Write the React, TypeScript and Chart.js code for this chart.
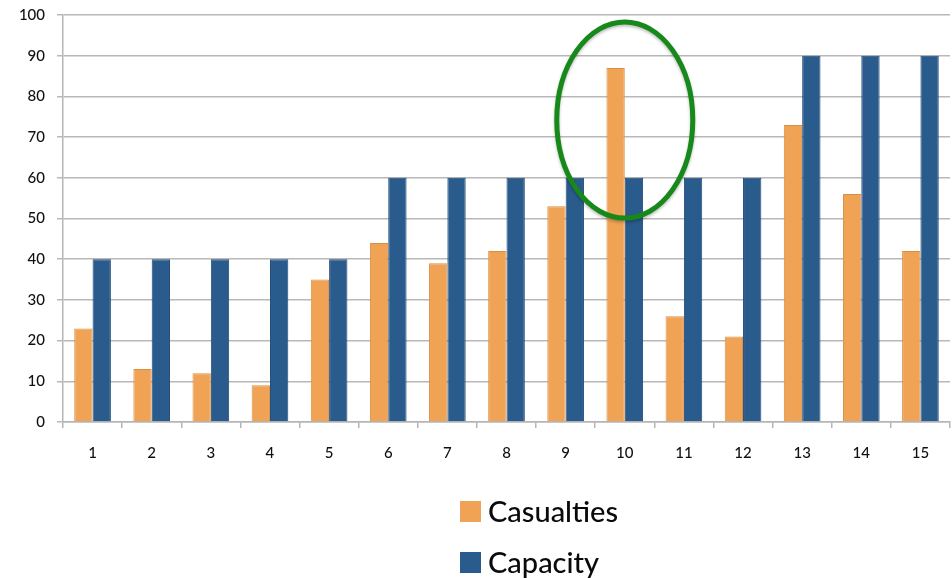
import React, { useEffect, useRef } from "react";
import { Chart, registerables } from "chart.js";

Chart.register(...registerables);

const categories = ["1", "2", "3", "4", "5", "6", "7", "8", "9", "10", "11", "12", "13", "14", "15"];
const casualties = [23, 13, 12, 9, 35, 44, 39, 42, 53, 87, 26, 21, 73, 56, 42];
const capacity = [40, 40, 40, 40, 40, 60, 60, 60, 60, 60, 60, 60, 90, 90, 90];
const seriesLabels = ["Casualties", "Capacity"];
const seriesColors = ["#F1A355", "#2A5B8D"];
const seriesBorders = ["#D98E45", "#1F4A76"];
// highlighted category (index) and the value span covered by the ellipse
const highlightIndex = 9;
const highlightTop = 98.3;
const highlightBottom = 50.1;
const highlightHalfWidth = 1.15; // in category units

const FONT = "Lato, 'Open Sans', sans-serif";

const ellipsePlugin = {
  id: "highlightEllipse",
  afterDatasetsDraw(chart: any) {
    const x = chart.scales.x;
    const y = chart.scales.y;
    const cx = x.getPixelForValue(highlightIndex);
    const step = x.getPixelForValue(1) - x.getPixelForValue(0);
    const rx = step * highlightHalfWidth;
    const yTop = y.getPixelForValue(highlightTop);
    const yBot = y.getPixelForValue(highlightBottom);
    const cy = (yTop + yBot) / 2;
    const ry = (yBot - yTop) / 2;
    const ctx = chart.ctx;
    ctx.save();
    ctx.beginPath();
    ctx.ellipse(cx, cy, rx, ry, 0, 0, Math.PI * 2);
    ctx.strokeStyle = "#17891A";
    ctx.lineWidth = 5;
    ctx.shadowColor = "rgba(0,0,0,0.25)";
    ctx.shadowBlur = 3;
    ctx.shadowOffsetY = 2;
    ctx.stroke();
    ctx.restore();
  },
};

export default function App() {
  const canvasRef = useRef<HTMLCanvasElement | null>(null);

  useEffect(() => {
    document.body.style.margin = "0";
    const canvas = canvasRef.current;
    if (!canvas) return;
    const chart = new Chart(canvas, {
      type: "bar",
      data: {
        labels: categories,
        datasets: [
          {
            label: seriesLabels[0],
            data: casualties,
            backgroundColor: seriesColors[0],
            borderColor: seriesBorders[0],
            borderWidth: 1,
          },
          {
            label: seriesLabels[1],
            data: capacity,
            backgroundColor: seriesColors[1],
            borderColor: seriesBorders[1],
            borderWidth: 1,
          },
        ],
      },
      options: {
        animation: false,
        responsive: false,
        maintainAspectRatio: false,
        layout: { padding: { top: 15, right: 2, left: 0, bottom: 0 } },
        plugins: {
          legend: { display: false },
          tooltip: { enabled: false },
        },
        datasets: {
          bar: { categoryPercentage: 0.62, barPercentage: 1.0 },
        },
        scales: {
          x: {
            afterFit: (s: any) => {
              s.height = 156;
            },
            grid: {
              offset: true,
              drawOnChartArea: false,
              color: "#B5B5B5",
              lineWidth: 1.5,
              tickLength: 6,
            },
            border: { color: "#B5B5B5", width: 1.5 },
            ticks: {
              color: "#111",
              font: { family: FONT, size: 15, weight: "500" as any },
              padding: 16,
              maxRotation: 0,
            },
          },
          y: {
            min: 0,
            max: 100,
            afterFit: (s: any) => {
              s.width = 63;
              s.paddingTop = 0;
              s.paddingBottom = 0;
            },
            ticks: {
              stepSize: 10,
              color: "#111",
              font: { family: FONT, size: 15, weight: "500" as any },
              padding: 12,
            },
            grid: {
              color: "#B8B8B8",
              lineWidth: 1.5,
              tickLength: 6,
            },
            border: { color: "#B5B5B5", width: 1.5 },
          },
        },
      },
      plugins: [ellipsePlugin],
    });
    return () => chart.destroy();
  }, []);

  const legendItem = (i: number, top: number) => (
    <div
      key={i}
      style={{
        position: "absolute",
        left: 460,
        top,
        display: "flex",
        alignItems: "center",
        fontFamily: FONT,
        fontSize: 29,
        fontWeight: 500,
        color: "#0a0a0a",
        lineHeight: "30px",
      }}
    >
      <span
        style={{
          display: "inline-block",
          width: 21,
          height: 21,
          background: seriesColors[i],
          marginRight: 7,
        }}
      />
      <span>{seriesLabels[i]}</span>
    </div>
  );

  return (
    <div style={{ position: "relative", width: 952, height: 578, overflow: "hidden", background: "#fff" }}>
      <canvas ref={canvasRef} width={952} height={578} style={{ display: "block" }} />
      {legendItem(0, 496)}
      {legendItem(1, 547)}
    </div>
  );
}
